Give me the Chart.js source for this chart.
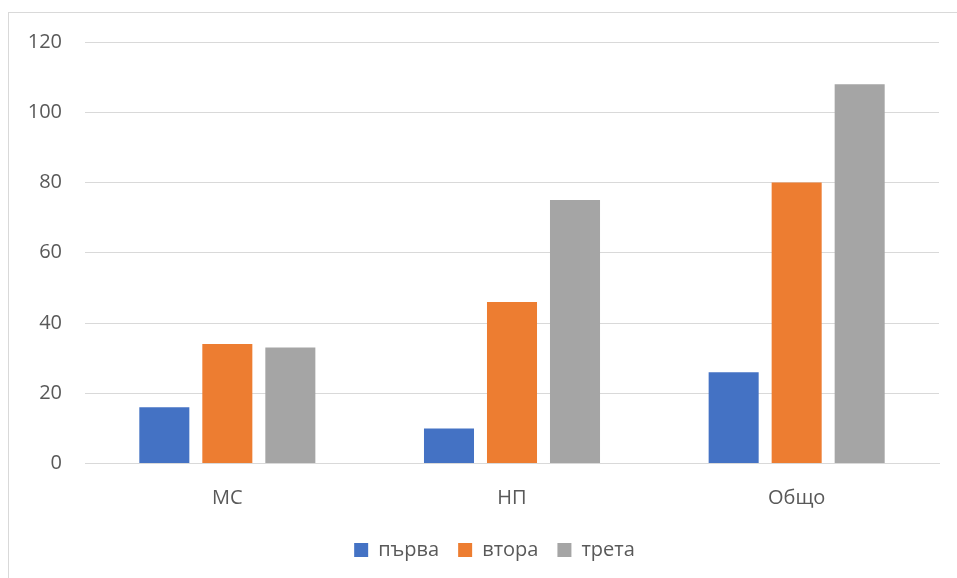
<!DOCTYPE html>
<html><head><meta charset="utf-8">
<script src="https://cdn.jsdelivr.net/npm/chart.js@4/dist/chart.umd.min.js"></script>
<style>
html,body{margin:0;padding:0;background:#fff;overflow:hidden;}
#frame{position:absolute;left:8px;top:12px;width:1000px;height:600px;border:1px solid #D9D9D9;box-sizing:border-box;}
#wrap{position:absolute;left:0;top:0;width:957px;height:578px;}
</style></head>
<body>
<div id="frame"></div>
<div id="wrap"><canvas id="c" width="957" height="578"></canvas></div>
<script>
const categories = ['МС', 'НП', 'Общо'];
const seriesNames = ['първа', 'втора', 'трета'];
const parva = [16, 10, 26];
const vtora = [34, 46, 80];
const treta = [33, 75, 108];
const yTicks = [0, 20, 40, 60, 80, 100, 120];
const colors = ['#4472C4', '#ED7D31', '#A5A5A5'];

const FONT = {family: '"Open Sans", sans-serif', size: 20};
const shiftLegend = {
  id: 'shiftLegend',
  afterLayout(chart) {
    const l = chart.legend;
    if (l) { l.left += 25; l.right += 25; }
  }
};
new Chart(document.getElementById('c'), {
  type: 'bar',
  data: {
    labels: categories,
    datasets: [parva, vtora, treta].map((d, i) => ({
      label: seriesNames[i], data: d, backgroundColor: colors[i],
      categoryPercentage: 0.664, barPercentage: 0.794
    }))
  },
  plugins: [shiftLegend],
  options: {
    responsive: false, animation: false,
    layout: {padding: {left: 0, right: 18, top: 42, bottom: 8}},
    plugins: {
      tooltip: {enabled: false},
      legend: {
        position: 'bottom',
        labels: {boxWidth: 14, boxHeight: 14, padding: 19, color: '#595959', font: FONT}
      }
    },
    scales: {
      x: {
        grid: {display: false, drawTicks: false},
        border: {display: true, color: '#D9D9D9'},
        ticks: {color: '#595959', font: FONT, padding: 23},
        afterFit: s => { s.height = 57.5; }
      },
      y: {
        min: 0, max: 120,
        afterBuildTicks: s => { s.ticks = yTicks.map(v => ({value: v})); },
        grid: {color: '#D9D9D9', drawTicks: false},
        border: {display: false},
        ticks: {color: '#595959', font: FONT, padding: 23},
        afterFit: s => { s.width = 85; }
      }
    }
  }
});
</script>
</body></html>
